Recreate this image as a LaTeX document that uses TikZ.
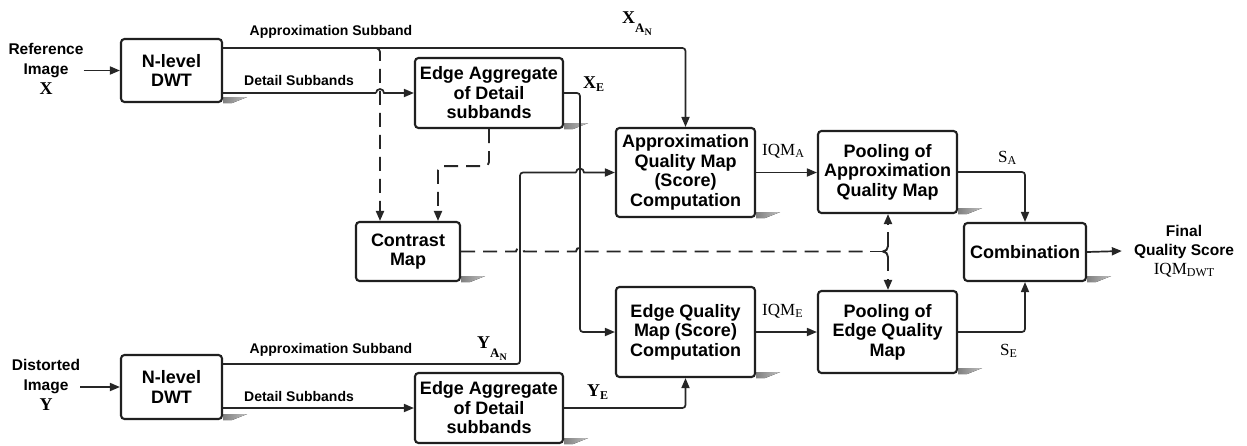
\documentclass[tikz,border=0pt]{standalone}
\usepackage{fontspec}
\setmainfont{Liberation Sans}
\newfontfamily\tms{Liberation Serif}
\usetikzlibrary{arrows.meta,backgrounds}
\newcommand\lowr[2]{\raisebox{-#1}{#2}}
\begin{document}
\begin{tikzpicture}[x=1pt,y=-1pt,
  box/.style={draw=black!88, line width=2.1pt, rounded corners=3.5pt, fill=white, align=center, inner sep=0pt, font=\fontsize{18}{19.5}\selectfont\bfseries},
  ln/.style={draw=black!85, line width=1.7pt},
  tip/.style={-{Triangle[length=10pt,width=8pt]}},
  arr/.style={ln, tip},
  dsh/.style={draw=black!85, line width=1.9pt, dash pattern=on 14pt off 8pt},
  lbl/.style={font=\fontsize{14}{16}\selectfont\bfseries, inner sep=0pt},
  sym/.style={anchor=base west, inner sep=0pt, font=\tms\bfseries\fontsize{18}{18}\selectfont},
  symr/.style={anchor=base west, inner sep=0pt, font=\tms\fontsize{17}{17}\selectfont},
  shd/.style={left color=black!50, right color=black!25}]

\useasboundingbox (0,0) rectangle (1247,445);

% boxes
\node[box, minimum width=101pt, minimum height=63pt] (dwt1) at (171.5,70.5) {N-level\\DWT};
\node[box, minimum width=101pt, minimum height=64pt] (dwt2) at (171.5,387) {N-level\\DWT};
\node[box, minimum width=148pt, minimum height=70pt] (ea1) at (489,93) {Edge Aggregate\\of Detail\\subbands};
\node[box, minimum width=148pt, minimum height=70pt] (ea2) at (489,408) {Edge Aggregate\\of Detail\\subbands};
\node[box, minimum width=104pt, minimum height=59pt] (cm) at (408,251.5) {Contrast\\Map};
\node[box, minimum width=139pt, minimum height=89pt] (aq) at (685.5,172.5) {Approximation\\Quality Map\\(Score)\\Computation};
\node[box, minimum width=139pt, minimum height=90pt] (eq) at (685.5,332) {Edge Quality\\Map (Score)\\Computation};
\node[box, minimum width=139pt, minimum height=82pt] (pa) at (887.5,172) {Pooling of\\Approximation\\Quality Map};
\node[box, minimum width=139pt, minimum height=82pt] (pe) at (887.5,332) {Pooling of\\Edge Quality\\Map};
\node[box, minimum width=122pt, minimum height=58pt] (comb) at (1025,252) {Combination};

\begin{pgfonlayer}{background}
\foreach \n in {dwt1,dwt2,ea1,ea2,cm,aq,eq,pa,pe,comb}
  \fill[shd] ([yshift=6pt]\n.south east) -- ++(24pt,0pt) -- ([xshift=9pt]\n.south east) -- (\n.south east) -- cycle;
\end{pgfonlayer}

% input texts
\node[align=center, inner sep=0pt, font=\fontsize{15.5}{20}\selectfont\bfseries] (reft) at (46,69) {Reference\\Image\\{\tms\fontsize{18}{18}\selectfont X}};
\node[align=center, inner sep=0pt, font=\fontsize{15.5}{20}\selectfont\bfseries] (dist) at (46,385) {Distorted\\Image\\{\tms\fontsize{18}{18}\selectfont Y}};
\node[align=center, inner xsep=12pt, inner ysep=0pt, font=\fontsize{15.5}{19}\selectfont\bfseries] (final) at (1184,251) {Final\\Quality Score\\{\tms\mdseries\fontsize{17}{17}\selectfont IQM\lowr{2pt}{\fontsize{12}{12}\selectfont DWT}}};

% helper coordinates
\coordinate (y48) at (0,48);
\coordinate (y364) at (0,364);
\coordinate (c380) at (380,0);
\coordinate (c438) at (438,0);
\coordinate (c520) at (520,0);
\coordinate (c580) at (580,0);
\coordinate (c888) at (888,0);

% inputs
\draw[arr] (reft.east |- dwt1.west) -- (dwt1.west);
\draw[arr] (dist.east |- dwt2.west) -- (dwt2.west);

% top approximation subband
\draw[arr, rounded corners=3pt] (dwt1.east |- y48) -| (aq.north);
\draw[dsh, tip, rounded corners=4pt] (dwt1.east |- y48) -| (c380 |- cm.north);
% top detail
\draw[ln] (dwt1.east |- ea1.west) -- ([xshift=-4pt]c380 |- ea1.west);
\draw[arr] ([xshift=-4pt]c380 |- ea1.west) arc[start angle=180, end angle=0, radius=4pt] -- (ea1.west);
% ea1 to contrast
\draw[dsh, tip, rounded corners=4pt] (ea1.south) -- ++(0,37) -| (c438 |- cm.north);
% X_E
\draw[arr, rounded corners=3pt] (ea1.east) -| (c580 |- eq.west) -- (eq.west);
% Y_AN
\draw[ln, rounded corners=3pt] (dwt2.east |- y364) -| (c520 |- aq.west) -- ([xshift=-4pt]c580 |- aq.west);
\draw[arr] ([xshift=-4pt]c580 |- aq.west) arc[start angle=180, end angle=0, radius=4pt] -- (aq.west);
% bottom detail
\draw[arr] (dwt2.east |- ea2.west) -- (ea2.west);
% Y_E
\draw[arr, rounded corners=3pt] (ea2.east) -| (eq.south);
% IQM arrows
\draw[arr] (aq.east) -- (aq.east -| pa.west);
\draw[arr] (eq.east) -- (eq.east -| pe.west);
% S arrows
\draw[arr, rounded corners=3pt] (pa.east) -| (comb.north);
\draw[arr, rounded corners=3pt] (pe.east) -| (comb.south);
\draw[arr] (comb.east) -- (final.west);
% contrast dashed
\draw[dsh] (cm.east) -- ([xshift=-4pt]c520 |- cm.east) arc[start angle=180, end angle=0, radius=4pt]
  -- ([xshift=-4pt]c580 |- cm.east) arc[start angle=180, end angle=0, radius=4pt] -- (868,251.5);
\draw[draw=black!85, line width=1.9pt] (870,251.5) -- (883,251.5);
\draw[dsh, tip] (c888 |- 0,246) -- (pa.south -| c888);
\draw[dsh, tip] (c888 |- 0,257) -- (pe.north -| c888);
\draw[draw=black!85, line width=1.9pt] (888,238) -- (888,246) to[out=-90,in=0] (883,251.5) to[out=0,in=90] (888,257) -- (888,265);

% labels
\node[lbl] (la1) at (331,32) {Approximation Subband};
\node[lbl] (ld1) at (299,80) {Detail Subbands};
\node[lbl] (la2) at (331,350) {Approximation Subband};
\node[lbl] (ld2) at (299,396) {Detail Subbands};

\node[sym] (xan) at (622,23) {X\lowr{9pt}{\fontsize{13}{13}\selectfont A\lowr{3pt}{\fontsize{10}{10}\selectfont N}}};
\node[sym] (xe) at (583,88) {X\lowr{3pt}{\fontsize{12}{12}\selectfont E}};
\node[sym] (yan) at (477,348) {Y\lowr{9pt}{\fontsize{13}{13}\selectfont A\lowr{3pt}{\fontsize{10}{10}\selectfont N}}};
\node[sym] (ye) at (587,396) {Y\lowr{3pt}{\fontsize{12}{12}\selectfont E}};
\node[symr] (iqma) at (762,155) {IQM\lowr{2pt}{\fontsize{12}{12}\selectfont A}};
\node[symr] (iqme) at (762,315) {IQM\lowr{2pt}{\fontsize{12}{12}\selectfont E}};
\node[symr] (sa) at (998,162) {S\lowr{2pt}{\fontsize{12}{12}\selectfont A}};
\node[symr] (se) at (1000,355) {S\lowr{2pt}{\fontsize{12}{12}\selectfont E}};
\end{tikzpicture}
\end{document}
